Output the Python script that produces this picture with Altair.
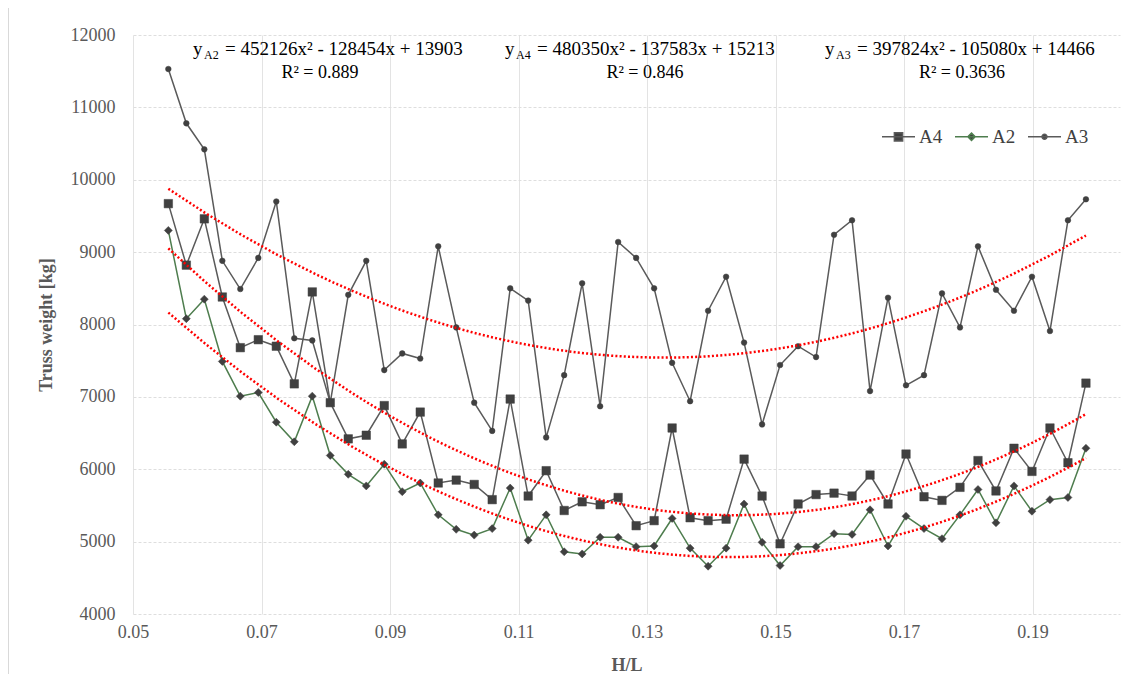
import altair as alt
import pandas as pd

# ---------------- data ----------------
H_L = [0.0555, 0.0583, 0.0611, 0.0639, 0.0667, 0.0695, 0.0723, 0.0751, 0.0779, 0.0807,
       0.0835, 0.0863, 0.0891, 0.0919, 0.0947, 0.0975, 0.1003, 0.1031, 0.1059, 0.1087,
       0.1115, 0.1143, 0.1171, 0.1199, 0.1227, 0.1255, 0.1283, 0.1311, 0.1339, 0.1367,
       0.1395, 0.1423, 0.1451, 0.1479, 0.1507, 0.1535, 0.1563, 0.1591, 0.1619, 0.1647,
       0.1675, 0.1703, 0.1731, 0.1759, 0.1787, 0.1815, 0.1843, 0.1871, 0.1899, 0.1927,
       0.1955, 0.1983]

A4 = [9670, 8820, 9460, 8380, 7680, 7790, 7700, 7180, 8450, 6920,
      6420, 6470, 6880, 6350, 6790, 5810, 5850, 5790, 5580, 6970,
      5630, 5980, 5430, 5550, 5510, 5610, 5220, 5290, 6570, 5330,
      5290, 5310, 6140, 5630, 4970, 5520, 5650, 5670, 5630, 5920,
      5520, 6210, 5620, 5570, 5750, 6120, 5700, 6290, 5970, 6570,
      6090, 7190]

A2 = [9300, 8080, 8350, 7490, 7010, 7060, 6650, 6380, 7010, 6190,
      5930, 5770, 6070, 5690, 5810, 5370, 5170, 5090, 5180, 5740,
      5020, 5370, 4860, 4830, 5060, 5060, 4930, 4940, 5320, 4910,
      4660, 4910, 5520, 4990, 4670, 4930, 4930, 5110, 5100, 5440,
      4940, 5350, 5180, 5040, 5370, 5720, 5260, 5770, 5420, 5580,
      5610, 6290]

A3 = [11530, 10780, 10420, 8880, 8490, 8920, 9700, 7810, 7780, 6920,
      8410, 8880, 7370, 7600, 7530, 9080, 7960, 6920, 6530, 8500,
      8330, 6440, 7300, 8570, 6870, 9140, 8920, 8500, 7470, 6940,
      8190, 8660, 7750, 6620, 7440, 7700, 7550, 9240, 9440, 7080,
      8370, 7160, 7300, 8430, 7960, 9080, 8480, 8190, 8660, 7910,
      9440, 9730]

SERIES = ["A4", "A2", "A3"]
X_TICKS = [0.05, 0.07, 0.09, 0.11, 0.13, 0.15, 0.17, 0.19]
Y_TICKS = [4000, 5000, 6000, 7000, 8000, 9000, 10000, 11000, 12000]

EQ_SUB = ["A2", "A4", "A3"]
EQ_REST = ["= 452126x\u00b2 - 128454x + 13903",
           "= 480350x\u00b2 - 137583x + 15213",
           "= 397824x\u00b2 - 105080x + 14466"]
R2_TEXT = ["R\u00b2 = 0.889", "R\u00b2 = 0.846", "R\u00b2 = 0.3636"]

# ---------------- styling ----------------
FONT = "Liberation Serif"
MARKER = "#404040"
LINE_COLORS = {"A4": "#5a5a5a", "A2": "#4e7d4e", "A3": "#5a5a5a"}
SHAPES = {"A4": "square", "A2": "diamond", "A3": "circle"}
SIZES = {"A4": 72, "A2": 64, "A3": 32}
LEGEND_PATHS = [
    "M-1,0H1M-0.25,-0.25H0.25V0.25H-0.25Z",
    "M-1,0H1M0,-0.22L0.22,0L0,0.22L-0.22,0Z",
    "M-1,0H1M-0.15,0A0.15,0.15,0,1,0,0.15,0A0.15,0.15,0,1,0,-0.15,0Z",
]

W, H = 987, 579

rows = []
for name, vals in zip(SERIES, [A4, A2, A3]):
    for xv, yv in zip(H_L, vals):
        rows.append({"series": name, "hl": xv, "w": yv})
df = pd.DataFrame(rows)

xscale = alt.Scale(domain=[0.05, 0.2036], nice=False, zero=False)
yscale = alt.Scale(domain=[4000, 12000], nice=False, zero=False)

x_axis = alt.Axis(values=X_TICKS, format=".2f", title="H/L", grid=True,
                  gridColor="#e3e3e3", gridWidth=1, domain=False, ticks=False,
                  labelFont=FONT, labelFontSize=18, labelColor="#595959",
                  labelPadding=9, labelFlush=False,
                  titleFont=FONT, titleFontSize=18, titleFontWeight="bold",
                  titleColor="#595959", titleY=51, titleBaseline="middle")
y_axis = alt.Axis(values=Y_TICKS, format="d", title="Truss weight [kg]", grid=True,
                  gridColor="#dedede", gridWidth=1, gridDash=[3, 2], domain=False,
                  ticks=False, labelFont=FONT, labelFontSize=18, labelColor="#595959",
                  labelPadding=18, labelFlush=False,
                  titleFont=FONT, titleFontSize=18, titleFontWeight="bold",
                  titleColor="#595959", titleX=-87, titleY=H / 2,
                  titleAlign="center", titleBaseline="middle", titleAngle=270)

X = alt.X("hl:Q", scale=xscale, axis=x_axis)
Y = alt.Y("w:Q", scale=yscale, axis=y_axis)
Xn = alt.X("hl:Q", scale=xscale)
Yn = alt.Y("w:Q", scale=yscale)

base = alt.Chart(df)

layers = []
# axes carrier (invisible)
layers.append(base.mark_point(opacity=0).encode(x=X, y=Y))

# light chart-area border on the left edge
layers.append(
    alt.Chart(pd.DataFrame({"k": [0]}))
    .mark_rule(color="#d9d9d9", strokeWidth=1)
    .encode(x=alt.value(-124.5), y=alt.value(-27), y2=alt.value(H + 60))
)

# series lines
for s in SERIES:
    layers.append(
        base.transform_filter(alt.datum.series == s)
        .mark_line(color=LINE_COLORS[s], strokeWidth=1.5)
        .encode(x=Xn, y=Yn)
    )
# markers
for s in SERIES:
    layers.append(
        base.transform_filter(alt.datum.series == s)
        .mark_point(filled=True, opacity=1, color=MARKER, shape=SHAPES[s],
                    size=SIZES[s], stroke=MARKER, strokeWidth=0.5)
        .encode(x=Xn, y=Yn)
    )

# polynomial (order 2) trendlines computed by Vega from the data
layers.append(
    base.transform_regression("hl", "w", method="poly", order=2, groupby=["series"])
    .mark_line(color="#ff0000", strokeWidth=2.5, strokeDash=[2, 2.2])
    .encode(x=Xn, y=Yn, detail="series:N")
)

# legend (no drawn data; entries come from the explicit domain)
leg = alt.Legend(title=None, orient="none", legendX=748, legendY=84,
                 direction="horizontal", symbolSize=1089, symbolStrokeWidth=1.5,
                 labelFont=FONT, labelFontSize=19, labelColor="#404040",
                 labelOffset=3, columnPadding=9, labelLimit=0)
layers.append(
    base.transform_filter("false")
    .mark_point(filled=False, fill=MARKER, strokeWidth=1.5, opacity=1)
    .encode(
        x=Xn, y=Yn,
        color=alt.Color("series:N",
                        scale=alt.Scale(domain=SERIES,
                                        range=[LINE_COLORS[s] for s in SERIES]),
                        legend=leg, sort=SERIES),
        shape=alt.Shape("series:N",
                        scale=alt.Scale(domain=SERIES, range=LEGEND_PATHS),
                        legend=leg, sort=SERIES),
    )
)

# equation annotations (pixel positions inside the plot area)
EQ_LEFT = [60, 372, 692]
R2_CENTER = [187, 512, 829]
ann_df = pd.DataFrame({
    "yx": EQ_LEFT,
    "subx": [v + 11 for v in EQ_LEFT],
    "restx": [v + 32 for v in EQ_LEFT],
    "r2x": R2_CENTER,
    "sub": EQ_SUB,
    "rest": EQ_REST,
    "r2": R2_TEXT,
})
ann = alt.Chart(ann_df)
layers.append(ann.mark_text(text="y", align="left", baseline="middle", font=FONT,
                            fontSize=19, color="#000000")
              .encode(x=alt.X("yx:Q", scale=None), y=alt.value(14)))
layers.append(ann.mark_text(align="left", baseline="middle", font=FONT,
                            fontSize=12, color="#000000")
              .encode(x=alt.X("subx:Q", scale=None), y=alt.value(20), text="sub:N"))
layers.append(ann.mark_text(align="left", baseline="middle", font=FONT,
                            fontSize=19, color="#000000")
              .encode(x=alt.X("restx:Q", scale=None), y=alt.value(14), text="rest:N"))
layers.append(ann.mark_text(align="center", baseline="middle", font=FONT,
                            fontSize=18, color="#000000")
              .encode(x=alt.X("r2x:Q", scale=None), y=alt.value(38), text="r2:N"))

chart = (
    alt.layer(*layers)
    .resolve_scale(x="shared", y="shared")
    .properties(width=W, height=H,
                autosize=alt.AutoSizeParams(type="none"),
                padding={"left": 125, "top": 27, "right": 1, "bottom": 60},
                background="white")
    .configure_view(stroke=None)
)

chart.save("out.html", embed_options={"renderer": "svg", "actions": False})
